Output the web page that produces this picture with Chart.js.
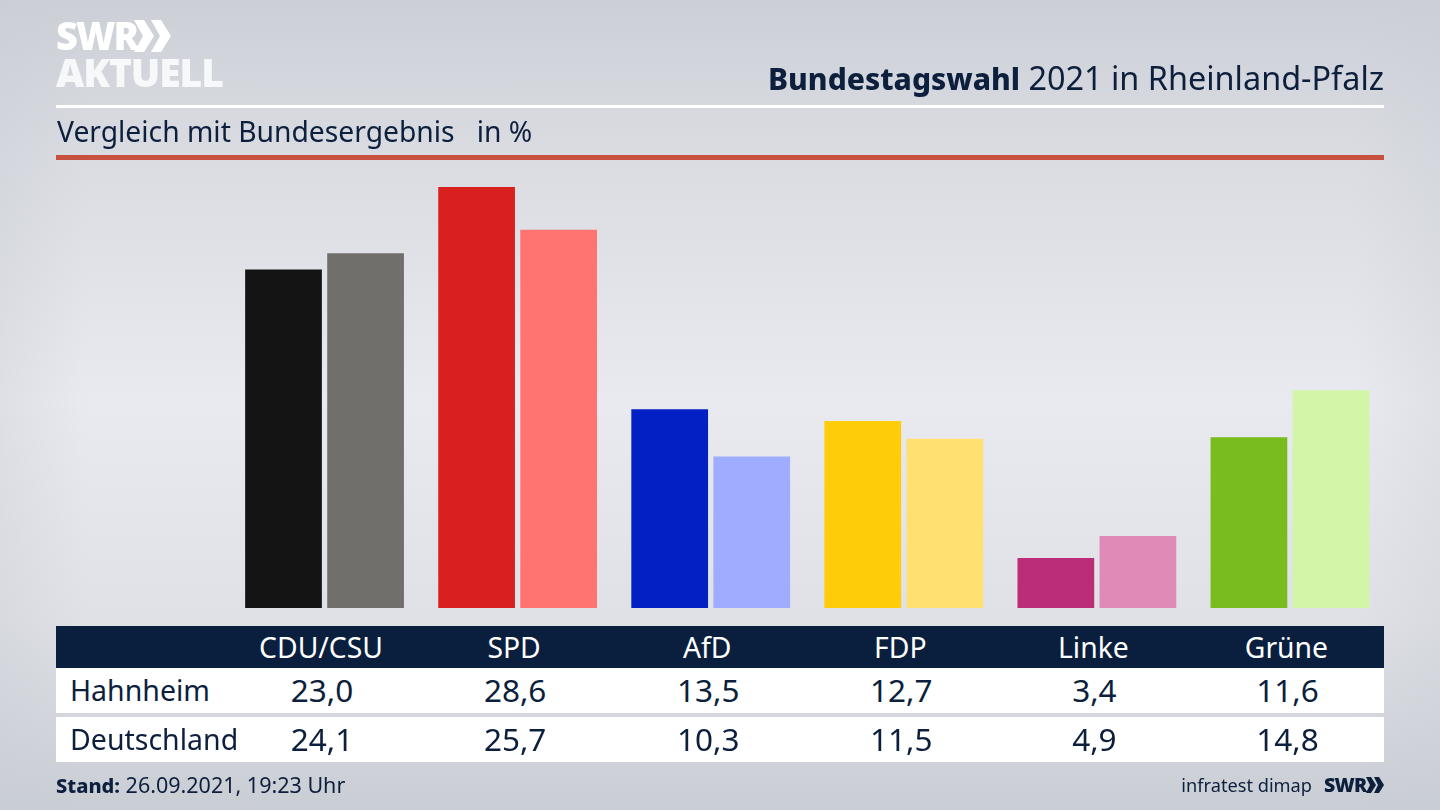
<!DOCTYPE html>
<html lang="de">
<head>
<meta charset="utf-8">
<title>Bundestagswahl 2021 in Rheinland-Pfalz</title>
<script src="https://cdn.jsdelivr.net/npm/chart.js@4"></script>
<style>
html,body{margin:0;padding:0;width:1440px;height:810px;overflow:hidden}
body{position:relative;font-family:"Noto Sans",sans-serif;color:#0c1f3d;
background:linear-gradient(90deg,rgba(200,204,212,.35) 0,rgba(200,204,212,0) 6%,rgba(200,204,212,0) 94%,rgba(200,204,212,.3) 100%),linear-gradient(180deg,#ccd0d6 0,#dadce2 160px,#e9eaef 400px,#dfe1e6 620px,#c9cdd4 810px)}
canvas{position:absolute;left:0;top:0}
.a{position:absolute;white-space:nowrap}
.c{transform:translateX(-50%)}
.band{position:absolute;left:56px;width:1328px}
</style>
</head>
<body>
<canvas id="chart" width="1440" height="810" style="width:1440px;height:810px"></canvas>

<div class="a" style="left:56px;top:10px;font-size:38px;line-height:50px;font-weight:900;color:#fff;letter-spacing:-2px">SWR</div>
<svg class="a" style="left:134px;top:20px" width="37" height="32" viewBox="0 0 37 32"><path fill="#fff" d="M0 0h10l10 16L10 32H0l9-16zM17 0h10l10 16-10 16H17l9-16z"/></svg>
<div class="a" style="left:56px;top:49px;font-size:39px;line-height:46px;font-weight:900;color:#f7f8f9;letter-spacing:-1.100px">AKTUELL</div>

<div class="a" style="right:56px;top:56px;font-size:32.400px;line-height:42px"><b style="font-weight:800;font-size:30px">Bundestagswahl</b> 2021 in Rheinland-Pfalz</div>
<div class="band" style="top:105px;height:3px;background:#fff"></div>
<div class="a" style="left:57px;top:111px;font-size:28.250px;line-height:40px" id="sub"></div>
<div class="band" style="top:155px;height:5px;background:#c8503f"></div>

<div class="band" style="top:626px;height:42px;background:#0a1f3e"></div>
<div class="band" style="top:668px;height:45px;background:#fff"></div>
<div class="band" style="top:717px;height:45px;background:#fff"></div>
<div id="table"></div>

<div class="a" style="left:56px;top:769px;font-size:21.500px;line-height:32px"><b style="font-weight:800;font-size:20px">Stand:</b> 26.09.2021, 19:23 Uhr</div>
<div class="a" style="right:128px;top:770px;font-size:18.200px;line-height:30px">infratest dimap</div>
<div class="a" style="left:1324px;top:770px;font-size:19.500px;line-height:30px;font-weight:900;letter-spacing:-.8px">SWR</div>
<svg class="a" style="left:1366px;top:777px" width="18" height="16" viewBox="0 0 18 16"><path fill="#0c1f3d" d="M0 0h5l5 8-5 8H0l4-8zM8 0h5l5 8-5 8H8l4-8z"/></svg>

<script>
const parties = ["CDU/CSU","SPD","AfD","FDP","Linke","Grüne"];
const hahnheim = [23.0,28.6,13.5,12.7,3.4,11.6];
const deutschland = [24.1,25.7,10.3,11.5,4.9,14.8];
const hahnheimColors = ["#141414","#d9201e","#0220c4","#ffcc0a","#bc2d78","#78bc1e"];
const deutschlandColors = ["#706f6b","#ff7370","#9eadff","#ffe070","#e08ab8","#d2f5a8"];
const rowLabels = ["Hahnheim","Deutschland"];
const subtitle = "Vergleich mit Bundesergebnis\u00a0\u00a0\u00a0in\u00a0%";

document.getElementById("sub").textContent = subtitle;

const fmt = v => v.toFixed(1).replace(".", ",");

const chart = new Chart(document.getElementById("chart"), {
  type: "bar",
  data: {
    labels: parties,
    datasets: [
      {label: rowLabels[0], data: hahnheim, backgroundColor: hahnheimColors, borderWidth: 0},
      {label: rowLabels[1], data: deutschland, backgroundColor: deutschlandColors, borderWidth: 0}
    ]
  },
  options: {
    responsive: false,
    animation: false,
    devicePixelRatio: 1,
    categoryPercentage: 0.85,
    barPercentage: 0.935,
    layout: {padding: {left: 228, right: 53.5, top: 166.5, bottom: 202}},
    plugins: {legend: {display: false}, title: {display: false}, tooltip: {enabled: false}},
    scales: {
      x: {display: false},
      y: {display: false, min: 0, max: 30}
    }
  }
});

const t = document.getElementById("table");
function cell(txt, x, top, size, color, center){
  const d = document.createElement("div");
  d.className = "a" + (center ? " c" : "");
  d.style.cssText = `left:${x}px;top:${top}px;font-size:${size}px;line-height:42px;color:${color}`;
  d.textContent = txt;
  t.appendChild(d);
}
const xs = chart.scales.x;
parties.forEach((p,i)=>{
  const x = xs.getPixelForValue(i);
  cell(p, x-3.500, 626, 28.300, "#fff", true);
  cell(fmt(hahnheim[i]), x-2.500, 669, 31.500, "#0c1f3d", true);
  cell(fmt(deutschland[i]), x-2.500, 718, 31.500, "#0c1f3d", true);
});
cell(rowLabels[0], 70, 669, 28.500, "#0c1f3d", false);
cell(rowLabels[1], 70, 718, 28.500, "#0c1f3d", false);
</script>
</body>
</html>
